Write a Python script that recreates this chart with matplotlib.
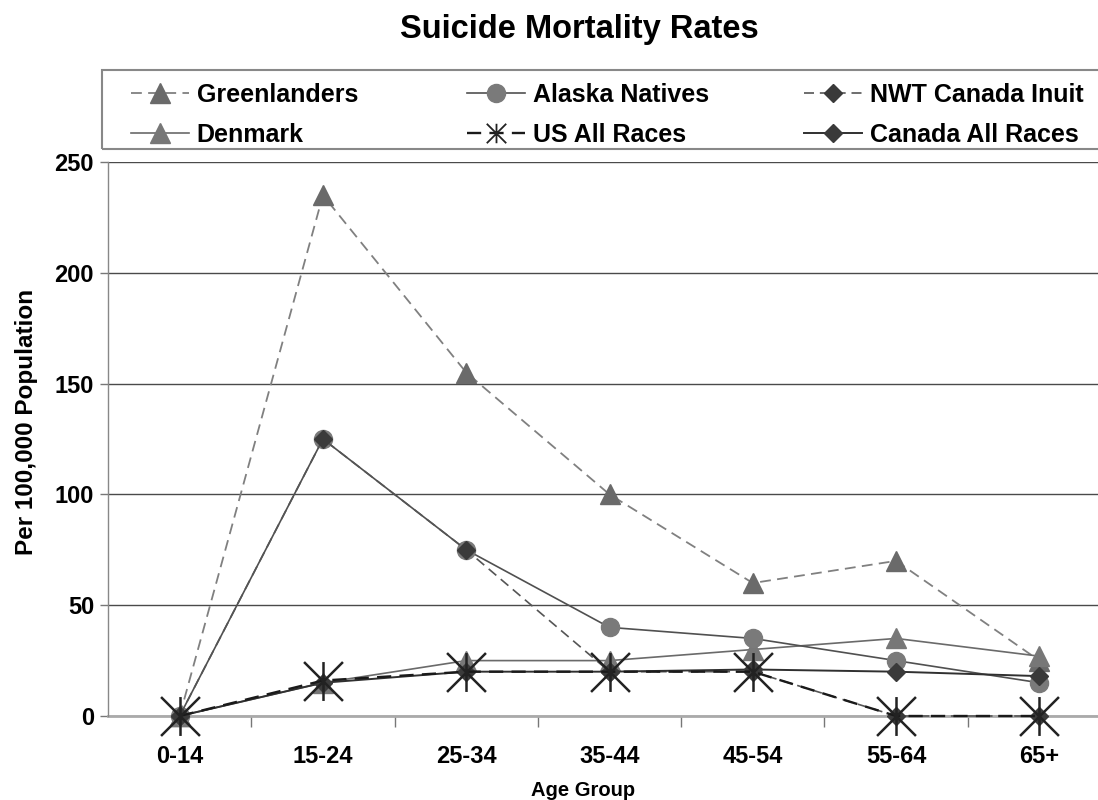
import matplotlib
matplotlib.use("Agg")
import matplotlib.pyplot as plt
from matplotlib.path import Path
from matplotlib.patches import Rectangle

plt.rcParams['font.family'] = ['Liberation Sans', 'DejaVu Sans']
plt.rcParams['font.weight'] = 'bold'

# Data -----------------------------------------------------------------------------------------------------------------

age_groups = ["0-14", "15-24", "25-34", "35-44", "45-54", "55-64", "65+"]

greenlanders = [0, 235, 155, 100, 60, 70, 25]
denmark = [0, 15, 25, 25, 30, 35, 27]
alaska_natives = [0, 125, 75, 40, 35, 25, 15]
us_all_races = [0, 16, 20, 20, 20, 0, 0]
nwt_canada_inuit = [0, 125, 75, 20, 20, 0, 0]
canada_all_races = [0, 15, 20, 20, 21, 20, 18]

y_ticks = [0, 50, 100, 150, 200, 250]

# asterisk marker: vertical bar plus two diagonals
star = Path([(0, -1), (0, 1), (-1, -1), (1, 1), (-1, 1), (1, -1)],
            [Path.MOVETO, Path.LINETO, Path.MOVETO, Path.LINETO, Path.MOVETO, Path.LINETO])

# Plot -----------------------------------------------------------------------------------------------------------------

fig = plt.figure(figsize=(10.98, 8), dpi=100)
ax = fig.add_axes([108 / 1098, 84 / 800, 1003 / 1098, 554 / 800])
x = list(range(len(age_groups)))

dash = (6, 3.5)
l_green, = ax.plot(x, greenlanders, color='#808080', lw=1.3, dashes=dash,
                   marker='^', ms=15, mfc='#6a6a6a', mec='#6a6a6a', zorder=3)
l_den, = ax.plot(x, denmark, color='#6a6a6a', lw=1.2,
                 marker='^', ms=15, mfc='#777777', mec='#777777', zorder=3)
l_alaska, = ax.plot(x, alaska_natives, color='#505050', lw=1.2,
                    marker='o', ms=13, mfc='#7a7a7a', mec='#7a7a7a', zorder=4)
l_nwt, = ax.plot(x, nwt_canada_inuit, color='#555555', lw=1.2, dashes=dash,
                 marker='D', ms=9, mfc='#3a3a3a', mec='#3a3a3a', zorder=4)
l_can, = ax.plot(x, canada_all_races, color='#303030', lw=1.4,
                 marker='D', ms=9, mfc='#3a3a3a', mec='#3a3a3a', zorder=5)
l_us, = ax.plot(x, us_all_races, color='#1a1a1a', lw=1.7, dashes=dash,
                marker=star, ms=28, mec='#222222', mew=1.8, zorder=6)
for line in ax.lines:
    line.set_clip_on(False)

# Axes styling
ax.set_xlim(-0.5, 6.5)
ax.set_ylim(0, 250)
ax.set_yticks(y_ticks)
ax.set_xticks(x)
ax.set_xticklabels(age_groups)
ax.set_xticks([i + 0.5 for i in x[:-1]], minor=True)
ax.tick_params(axis='x', which='major', length=0, pad=21, labelsize=17)
ax.tick_params(axis='x', which='minor', length=8, color='#777777', width=1)
ax.tick_params(axis='y', length=6, color='#777777', width=1, pad=4, labelsize=17)
ax.grid(axis='y', color='#4a4a4a', lw=1.0)
ax.set_axisbelow(True)
for side in ['top', 'right']:
    ax.spines[side].set_visible(False)
ax.spines['left'].set_color('#888888')
ax.spines['left'].set_linewidth(1.0)
ax.spines['bottom'].set_color('#aaaaaa')
ax.spines['bottom'].set_linewidth(2.0)
ax.spines['bottom'].set_zorder(1)

# Titles
fig.text(579 / 1098, 1 - 38 / 800, "Suicide Mortality Rates", ha='center', va='baseline',
         fontsize=23.5, fontweight='bold')
fig.text(27 / 1098, 1 - 422 / 800, "Per 100,000 Population", rotation=90, ha='center', va='center',
         fontsize=17.5, fontweight='bold')
fig.text(583 / 1098, 1 - 790 / 800, "Age Group", ha='center', va='center',
         fontsize=14.5, fontweight='bold')

# Legend: three columns of two entries inside one box
columns = [([l_green, l_den], ["Greenlanders", "Denmark"], 118),
           ([l_alaska, l_us], ["Alaska Natives", "US All Races"], 454),
           ([l_nwt, l_can], ["NWT Canada Inuit", "Canada All Races"], 791)]
for handles, labels, x0 in columns:
    leg = fig.legend(handles, labels, loc='upper left', bbox_to_anchor=(x0 / 1098, 1 - 70 / 800),
                     frameon=False, borderpad=0, numpoints=1, handlelength=2.35,
                     handletextpad=0.3, labelspacing=0.65, fontsize=18)
    if l_us in handles:
        leg.legend_handles[1].set_markersize(14)
        leg.legend_handles[1].set_markeredgewidth(1.3)
fig.patches.append(Rectangle((102 / 1098, 1 - 149 / 800), 1.0, 79 / 800, transform=fig.transFigure,
                             fill=False, edgecolor='#888888', lw=1.5, clip_on=False))

plt.savefig("out.png", dpi=100)
